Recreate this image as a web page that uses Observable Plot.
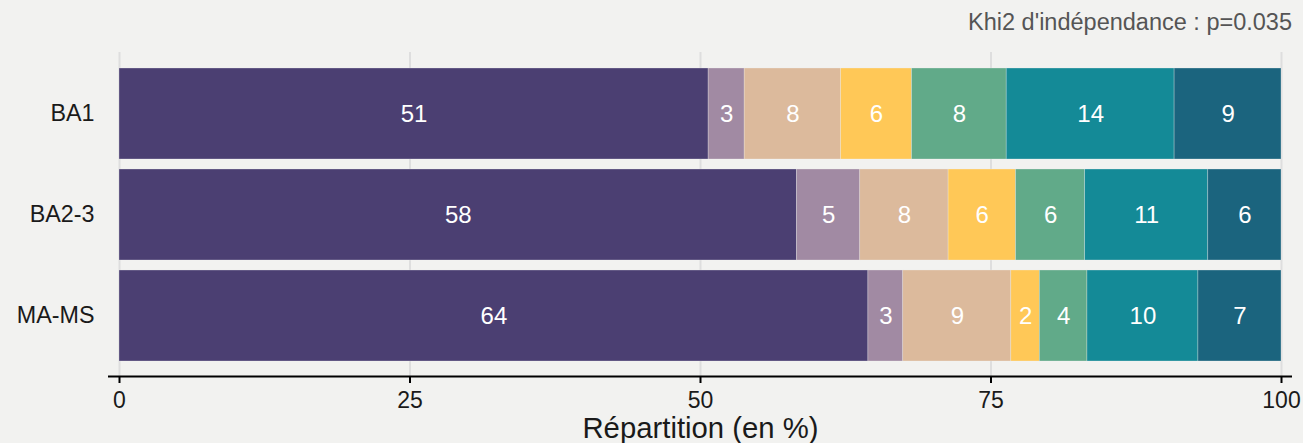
<!DOCTYPE html>
<html>
<head>
<meta charset="utf-8">
<script src="https://cdn.jsdelivr.net/npm/d3@7"></script>
<script src="https://cdn.jsdelivr.net/npm/@observablehq/plot@0.6"></script>
<style>
  html, body { margin: 0; padding: 0; background: #f2f2f0; }
  body { width: 1303px; height: 443px; overflow: hidden; font-family: "Liberation Sans", Arial, sans-serif; }
  #title { position: relative; height: 44px; width: 1303px; }
  #title span { position: absolute; right: 11px; top: 11px; font-size: 23.5px; line-height: 23px; color: #555555; white-space: nowrap; }
  #chart svg { display: block; background: #f2f2f0; }
</style>
</head>
<body>
<div id="title"><span>Khi2 d'indépendance : p=0.035</span></div>
<div id="chart"></div>
<script>
const categories = ["BA1", "BA2-3", "MA-MS"];
const series = ["Modalité 1", "Modalité 2", "Modalité 3", "Modalité 4", "Modalité 5", "Modalité 6", "Modalité 7"];
const valuesBA1  = [50.7, 3.1, 8.3, 6.1, 8.15, 14.45, 9.2];
const valuesBA23 = [58.3, 5.45, 7.6, 5.8, 5.95, 10.6, 6.3];
const valuesMAMS = [64.45, 3.0, 9.3, 2.45, 4.1, 9.55, 7.15];
const colors = ["#4b3f72", "#a18aa3", "#dcba9c", "#ffc857", "#61aa89", "#148a97", "#1b647e"];
const xTicks = [0, 25, 50, 75, 100];
const xLabel = "Répartition (en %)";

const allValues = [valuesBA1, valuesBA23, valuesMAMS];
const data = [];
categories.forEach((c, i) => {
  series.forEach((s, j) => data.push({cat: c, serie: s, value: allValues[i][j]}));
});

const axisLine = (index, scales, values, dim) => {
  const y = dim.height - dim.marginBottom + 0.5;
  return d3.create("svg:line")
    .attr("x1", dim.marginLeft - 11).attr("x2", dim.width - dim.marginRight + 11)
    .attr("y1", y).attr("y2", y)
    .attr("stroke", "#000").attr("stroke-width", 2).node();
};

const plot = Plot.plot({
  width: 1303,
  height: 399,
  marginTop: 8,
  marginBottom: 67,
  marginLeft: 119,
  marginRight: 22,
  style: {background: "#f2f2f0", fontFamily: "'Liberation Sans', Arial, sans-serif", color: "#1a1a1a"},
  x: {domain: [0, 100]},
  y: {domain: categories, paddingInner: 0.1, paddingOuter: 0.148},
  color: {domain: series, range: colors},
  marks: [
    Plot.gridX(xTicks, {stroke: "#dedede", strokeWidth: 2, strokeOpacity: 1}),
    Plot.barX(data, {x: "value", y: "cat", fill: "serie", stroke: "#f2f2f0", strokeWidth: 0.6, strokeOpacity: 0.5}),
    Plot.text(data, Plot.stackX({x: "value", y: "cat", text: d => String(Math.round(d.value)), fill: "white", fontSize: 24})),
    Plot.axisY({tickSize: 0, tickPadding: 25, fontSize: 23.3, label: null, fill: "#1a1a1a"}),
    axisLine,
    Plot.axisX(xTicks, {tickSize: 7, tickPadding: 8, strokeWidth: 2, stroke: "#000", fontSize: 23, fill: "#1a1a1a", label: null}),
    Plot.text([xLabel], {frameAnchor: "bottom", dy: 52, lineAnchor: "middle", fontSize: 29.3, fill: "#1a1a1a"})
  ]
});
document.getElementById("chart").appendChild(plot);
</script>
</body>
</html>
